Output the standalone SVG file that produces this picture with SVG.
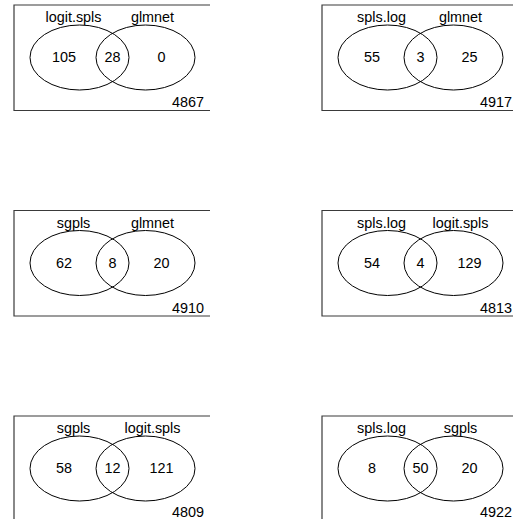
<svg xmlns="http://www.w3.org/2000/svg" width="513" height="519" viewBox="0 0 513 519">
<style>
.box{fill:none;stroke:#3a3a3a;stroke-width:1.2}
.set{fill:none;stroke:#000;stroke-width:1}
text{font-family:"Liberation Sans",Arial,Helvetica,sans-serif;font-size:14.4px;fill:#000;text-anchor:middle}
.tot{text-anchor:end}
</style>
<rect width="513" height="519" fill="#fff"/>
<defs>
<g id="venn">
<path class="box" d="M210,5 H14 V110.5 H210"/>
<ellipse class="set" cx="79.5" cy="57.5" rx="49.5" ry="32.5"/>
<ellipse class="set" cx="145.5" cy="57.5" rx="49.5" ry="32.5"/>
</g>
</defs>
<g id="p1">
<use href="#venn"/>
<text x="73.5" y="22">logit.spls</text><text x="152.5" y="22">glmnet</text>
<text x="64" y="62">105</text><text x="112.5" y="62">28</text><text x="161.5" y="62">0</text>
<text class="tot" x="204" y="107">4867</text>
</g>
<g id="p2" transform="translate(308,0)">
<use href="#venn"/>
<text x="73.5" y="22">spls.log</text><text x="152.5" y="22">glmnet</text>
<text x="64" y="62">55</text><text x="112.5" y="62">3</text><text x="161.5" y="62">25</text>
<text class="tot" x="204" y="107">4917</text>
</g>
<g id="p3" transform="translate(0,205.5)">
<use href="#venn"/>
<text x="73.5" y="22">sgpls</text><text x="152.5" y="22">glmnet</text>
<text x="64" y="62">62</text><text x="112.5" y="62">8</text><text x="161.5" y="62">20</text>
<text class="tot" x="204" y="107">4910</text>
</g>
<g id="p4" transform="translate(308,205.5)">
<use href="#venn"/>
<text x="73.5" y="22">spls.log</text><text x="152.5" y="22">logit.spls</text>
<text x="64" y="62">54</text><text x="112.5" y="62">4</text><text x="161.5" y="62">129</text>
<text class="tot" x="204" y="107">4813</text>
</g>
<g id="p5" transform="translate(0,411)">
<use href="#venn"/>
<text x="73.5" y="22">sgpls</text><text x="152.5" y="22">logit.spls</text>
<text x="64" y="62">58</text><text x="112.5" y="62">12</text><text x="161.5" y="62">121</text>
<text class="tot" x="204" y="106">4809</text>
</g>
<g id="p6" transform="translate(308,411)">
<use href="#venn"/>
<text x="73.5" y="22">spls.log</text><text x="152.5" y="22">sgpls</text>
<text x="64" y="62">8</text><text x="112.5" y="62">50</text><text x="161.5" y="62">20</text>
<text class="tot" x="204" y="106">4922</text>
</g>
</svg>
